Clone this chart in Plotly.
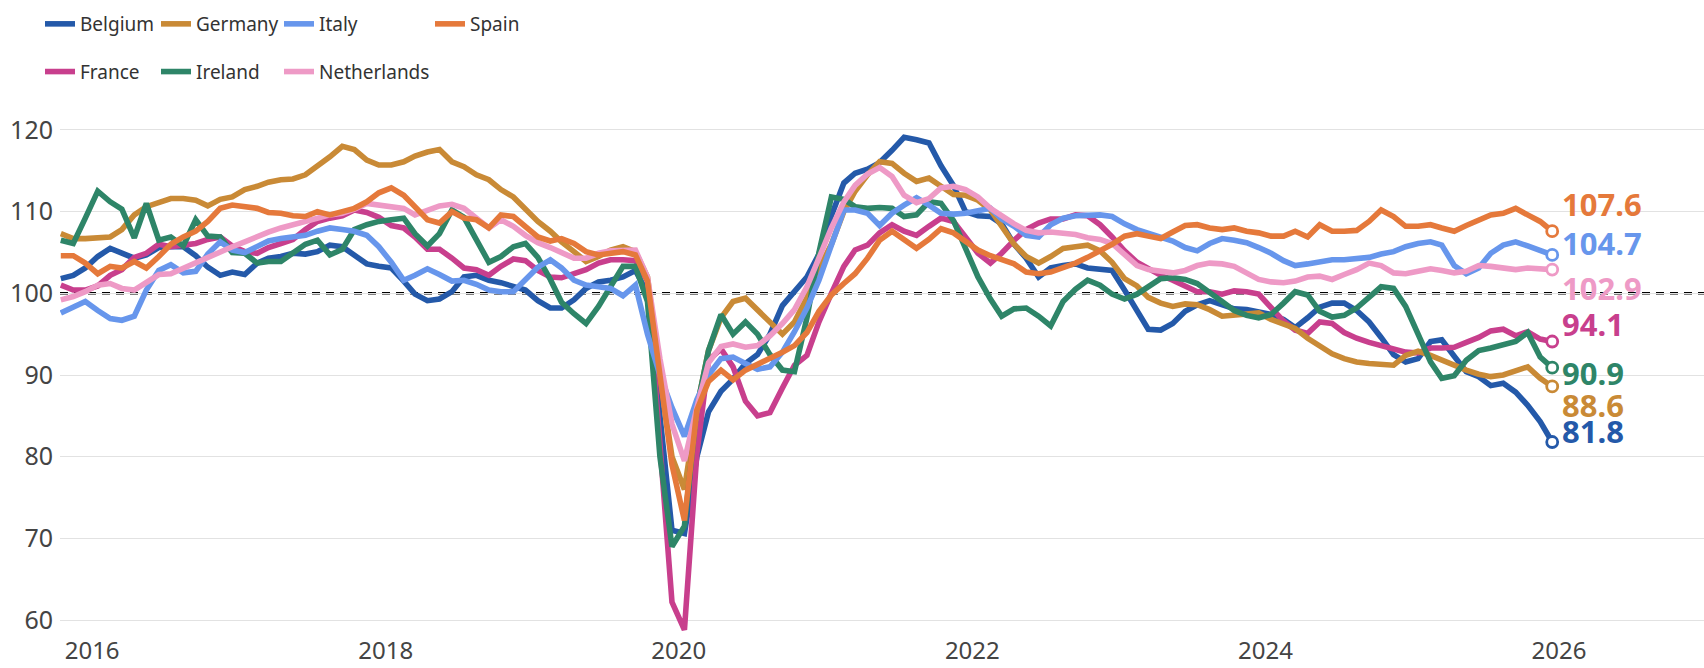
import pandas as pd
import plotly.graph_objects as go

# ---------------- data (monthly index, Oct 2015 .. Dec 2025) ----------------
n_months = 123
dates = pd.date_range("2015-10-01", periods=n_months, freq="MS") + pd.Timedelta(days=14)

belgium = [
    101.8, 102.2, 103.1, 104.5, 105.5, 104.9, 104.3, 104.7, 105.6, 105.7,
    105.7, 104.6, 103.2, 102.2, 102.6, 102.3, 103.7, 104.3, 104.5, 104.9,
    104.8, 105.1, 105.9, 105.7, 104.7, 103.6, 103.3, 103.1, 101.5, 99.9,
    99.1, 99.3, 100.2, 102.0, 102.2, 101.6, 101.3, 100.9, 100.4, 99.1,
    98.2, 98.2, 99.2, 100.6, 101.4, 101.6, 102.0, 102.8, 100.0, 85.0,
    71.0, 70.6, 80.0, 85.5, 88.0, 89.5, 91.4, 92.5, 95.0, 98.5,
    100.2, 102.0, 104.8, 109.5, 113.5, 114.7, 115.2, 116.0, 117.5, 119.1,
    118.8, 118.4, 115.6, 113.2, 110.0, 109.5, 109.4, 108.5, 106.0, 104.3,
    102.0, 103.1, 103.4, 103.6, 103.1, 102.9, 102.8, 100.4, 97.8, 95.6,
    95.5, 96.3, 97.8, 98.6, 99.1, 98.6, 98.1, 98.0, 97.7, 97.4,
    96.8, 95.8, 97.0, 98.3, 98.8, 98.8, 97.9, 96.5, 94.6, 92.5,
    91.6, 92.0, 94.1, 94.3, 92.3, 90.4, 89.8, 88.7, 89.0, 87.9,
    86.3, 84.3, 81.8,
]
france = [
    101.0, 100.4, 100.4, 100.9, 102.2, 102.9, 104.4, 104.9, 106.0, 105.7,
    105.9, 106.1, 106.6, 106.9, 105.8, 105.1, 104.9, 105.6, 106.1, 106.6,
    107.8, 108.8, 109.2, 109.5, 110.2, 109.9, 109.3, 108.3, 108.0, 106.9,
    105.4, 105.4, 104.3, 103.1, 102.9, 102.2, 103.3, 104.2, 104.0, 102.8,
    102.0, 101.9, 102.4, 102.9, 103.7, 104.1, 104.1, 104.0, 101.5, 81.0,
    62.2, 58.8, 80.4, 91.8, 93.2, 91.0, 86.8, 85.0, 85.4, 88.4,
    91.2, 92.4, 96.5, 100.0, 103.3, 105.3, 105.9, 107.4, 108.4, 107.6,
    107.1, 108.2, 109.2, 108.8, 106.9, 104.9, 103.7, 104.9, 106.5, 107.8,
    108.6, 109.1, 109.1, 109.6, 109.5, 108.4, 106.9, 105.2, 103.8, 103.0,
    102.2, 101.6, 100.9, 100.2, 100.2, 99.9, 100.3, 100.2, 99.9, 98.3,
    96.6, 95.5, 95.1, 96.5, 96.3, 95.2, 94.5, 94.0, 93.6, 93.2,
    92.8, 92.7, 93.3, 93.3, 93.4, 94.0, 94.6, 95.4, 95.6, 94.8,
    95.3, 94.4, 94.1,
]
germany = [
    107.3, 106.7, 106.7, 106.8, 106.9, 107.8, 109.6, 110.6, 111.2, 111.6,
    111.6, 111.4, 110.7, 111.5, 111.8, 112.7, 113.1, 113.6, 113.9, 114.0,
    114.5, 115.5, 116.7, 118.0, 117.6, 116.3, 115.7, 115.7, 116.1, 116.8,
    117.3, 117.6, 116.1, 115.5, 114.5, 113.9, 112.7, 111.8, 110.2, 108.8,
    107.6, 106.3, 105.1, 103.9, 104.5, 105.3, 105.7, 105.1, 102.0, 90.0,
    80.0, 76.0, 86.0, 93.0, 97.0, 99.0, 99.4, 98.0, 96.5, 95.0,
    96.5, 99.5, 103.0, 106.0, 110.0, 112.5, 114.5, 116.1, 115.9, 114.7,
    113.7, 114.1, 113.1, 112.1, 112.0, 111.4, 110.2, 108.3, 106.0, 104.5,
    103.7, 104.5, 105.5, 105.7, 105.9, 105.2, 103.8, 101.8, 100.9, 99.5,
    98.8, 98.4, 98.7, 98.6, 98.0, 97.2, 97.3, 97.4, 97.6, 96.8,
    96.2, 95.7, 94.5, 93.5, 92.6, 92.0, 91.6, 91.4, 91.3, 91.2,
    92.4, 92.9, 92.4, 91.8, 91.2, 90.6, 90.1, 89.8, 90.0, 90.5,
    91.0, 89.6, 88.6,
]
ireland = [
    106.5, 106.1, 109.2, 112.5, 111.2, 110.3, 106.8, 111.0, 106.5, 106.9,
    105.8, 109.0, 107.0, 106.9, 105.0, 104.9, 103.7, 103.9, 103.9, 104.9,
    106.0, 106.5, 104.7, 105.4, 107.8, 108.4, 108.8, 109.0, 109.2, 107.3,
    105.8, 107.3, 110.2, 109.3, 106.5, 103.8, 104.5, 105.7, 106.1, 104.4,
    101.7, 98.9, 97.5, 96.3, 98.4, 100.9, 103.3, 103.3, 99.0, 80.0,
    69.0, 71.5, 86.0, 93.0, 97.4, 95.0, 96.5, 95.0, 92.5, 90.6,
    90.4, 97.0, 105.0, 111.8, 111.5, 110.6, 110.4, 110.5, 110.4, 109.4,
    109.6, 111.2, 111.0, 108.9, 105.5, 102.0, 99.3, 97.2, 98.1, 98.2,
    97.2, 96.0, 99.0, 100.5, 101.6, 101.0, 99.9, 99.3, 99.9, 100.8,
    101.8, 101.9, 101.7, 101.2, 100.2, 99.0, 97.9, 97.3, 97.0, 97.4,
    98.8, 100.2, 99.8, 97.8, 97.1, 97.3, 98.2, 99.6, 100.8, 100.6,
    98.4, 95.0, 91.6, 89.6, 89.9, 91.8, 93.0, 93.3, 93.7, 94.1,
    95.2, 92.2, 90.9,
]
italy = [
    97.6, 98.4, 99.0, 97.9, 96.9, 96.7, 97.2, 100.4, 102.8, 103.5,
    102.5, 102.7, 104.8, 106.3, 105.3, 105.0, 105.8, 106.4, 106.7, 106.9,
    107.1, 107.6, 108.0, 107.8, 107.6, 107.1, 105.7, 103.8, 101.6, 102.2,
    103.0, 102.3, 101.5, 101.6, 101.1, 100.4, 100.2, 100.2, 101.6, 103.2,
    104.1, 103.1, 101.6, 101.0, 100.8, 100.6, 99.7, 101.0, 95.0, 90.0,
    86.0, 82.5, 87.0, 90.0, 92.0, 92.2, 91.4, 90.7, 91.0, 92.8,
    95.3, 98.2, 101.6, 106.1, 110.2, 110.2, 109.8, 108.3, 109.8, 110.8,
    111.7, 110.8, 109.8, 109.7, 109.8, 110.1, 110.4, 109.1, 108.2, 107.1,
    106.9, 108.4, 109.2, 109.5, 109.6, 109.6, 109.4, 108.5, 107.8, 107.4,
    106.9, 106.4, 105.6, 105.2, 106.1, 106.7, 106.5, 106.2, 105.6, 104.9,
    104.0, 103.4, 103.6, 103.9, 104.1, 104.1, 104.2, 104.4, 104.8, 105.1,
    105.7, 106.1, 106.3, 105.9, 103.4, 102.4, 103.1, 104.9, 105.9, 106.3,
    105.8, 105.3, 104.7,
]
netherlands = [
    99.2, 99.6, 100.2, 101.0, 101.2, 100.6, 100.4, 101.4, 102.3, 102.4,
    103.1, 103.7, 104.5, 105.1, 105.7, 106.3, 107.0, 107.5, 108.0, 108.4,
    108.9, 109.2, 109.6, 109.8, 110.3, 111.0, 110.8, 110.5, 110.4, 109.6,
    110.1, 110.7, 110.9, 110.4, 109.2, 108.0, 109.0, 108.2, 107.1, 106.2,
    105.6, 105.0, 104.3, 104.3, 104.9, 105.2, 105.3, 105.3, 102.0, 92.0,
    84.0, 79.5, 86.0, 91.5, 93.5, 93.8, 93.4, 93.6, 94.8, 96.3,
    98.0, 100.8, 104.3, 108.0, 111.2, 113.2, 114.6, 115.4, 114.3, 112.0,
    111.1, 111.6, 112.9, 113.1, 112.7, 111.8, 110.4, 109.4, 108.5, 107.7,
    107.4, 107.5, 107.4, 107.2, 106.8, 106.6, 106.1, 104.7, 103.4, 102.9,
    102.7, 102.5, 102.8, 103.4, 103.7, 103.6, 103.3, 102.4, 101.7, 101.4,
    101.3, 101.5, 102.0, 102.1, 101.7, 102.3, 102.9, 103.7, 103.4, 102.5,
    102.4, 102.7, 103.0, 102.8, 102.5, 102.7, 103.4, 103.3, 103.1, 102.9,
    103.1, 103.0, 102.9,
]
spain = [
    104.6, 104.6, 103.7, 102.4, 103.3, 103.1, 103.9, 103.1, 104.5, 106.0,
    106.9, 107.6, 108.8, 110.4, 110.8, 110.6, 110.4, 109.9, 109.8, 109.5,
    109.4, 110.0, 109.6, 110.0, 110.4, 111.2, 112.3, 112.9, 112.0, 110.6,
    109.0, 108.6, 110.0, 109.2, 109.0, 108.0, 109.6, 109.4, 108.2, 106.9,
    106.4, 106.7, 106.1, 105.1, 104.7, 104.9, 105.1, 104.7, 101.5, 90.0,
    79.0, 72.2, 85.7, 89.2, 90.6, 89.4, 90.6, 91.3, 92.0, 92.8,
    93.6, 95.2, 97.8, 99.8, 101.2, 102.4, 104.3, 106.5, 107.6, 106.5,
    105.5, 106.6, 107.9, 107.4, 106.3, 105.3, 104.6, 104.2, 103.6, 102.6,
    102.4, 102.6, 103.1, 103.7, 104.4, 105.2, 106.0, 107.0, 107.3, 107.0,
    106.7, 107.5, 108.3, 108.4, 108.0, 107.8, 108.0, 107.6, 107.4, 107.0,
    107.0, 107.6, 106.9, 108.4, 107.6, 107.6, 107.7, 108.8, 110.2, 109.4,
    108.2, 108.2, 108.4, 108.0, 107.6, 108.3, 109.0, 109.6, 109.8, 110.4,
    109.6, 108.8, 107.6,
]

countries = ["Belgium", "France", "Germany", "Ireland", "Italy", "Netherlands", "Spain"]
series = [belgium, france, germany, ireland, italy, netherlands, spain]
reference_level = 100
year_ticks = ["2016", "2018", "2020", "2022", "2024", "2026"]

# ---------------- styling ----------------
colors = {
    "Belgium": "#2459A9",
    "France": "#C83F8D",
    "Germany": "#C98A36",
    "Ireland": "#2E8568",
    "Italy": "#6796EC",
    "Netherlands": "#EE9AC6",
    "Spain": "#E5793B",
}
legend_of = {
    "Belgium": "legend", "France": "legend",
    "Germany": "legend2", "Ireland": "legend2",
    "Italy": "legend3", "Netherlands": "legend3",
    "Spain": "legend4",
}
legend_left_px = {"legend": 40, "legend2": 156, "legend3": 279, "legend4": 430}
label_shift = {"Spain": 27, "Italy": 12, "Netherlands": -18, "France": 18,
               "Ireland": -5, "Germany": -19, "Belgium": 11}

W, H = 1704, 668
FONT = "Noto Sans"

fig = go.Figure()
for name, vals in zip(countries, series):
    fig.add_trace(go.Scatter(
        x=dates, y=vals, mode="lines", name=name,
        line=dict(color=colors[name], width=5.6),
        legend=legend_of[name], legendgroup=name,
        hoverinfo="skip",
    ))
for name, vals in zip(countries, series):
    fig.add_trace(go.Scatter(
        x=[dates[-1]], y=[vals[-1]], mode="markers", showlegend=False,
        marker=dict(symbol="circle", size=11, color="white",
                    line=dict(color=colors[name], width=2.8)),
        hoverinfo="skip",
    ))
    fig.add_annotation(
        x=dates[-1], y=vals[-1], text=f"<b>{vals[-1]:.1f}</b>",
        showarrow=False, xanchor="left", yanchor="middle",
        xshift=8, yshift=label_shift[name],
        font=dict(family=FONT, size=31, color=colors[name]),
    )

fig.add_shape(type="line", xref="paper", x0=0, x1=1, yref="y",
              y0=reference_level, y1=reference_level, layer="between",
              line=dict(color="black", width=2.5, dash="8px,6px"))

legend_common = dict(
    orientation="v", xref="container", yref="container",
    yanchor="top", y=1 - 5 / H, xanchor="left",
    font=dict(family=FONT, size=19, color="#333333"),
    bgcolor="rgba(0,0,0,0)", tracegroupgap=20, itemwidth=30,
)
legends = {}
for key, px in legend_left_px.items():
    legends[key] = dict(legend_common, x=px / W)

fig.update_layout(
    width=W, height=H,
    margin=dict(l=60, r=0, t=105, b=30, autoexpand=False),
    paper_bgcolor="white", plot_bgcolor="white",
    font=dict(family=FONT, color="#444444"),
    **legends,
)
fig.update_xaxes(
    range=["2015-10-13", "2026-12-28"],
    tickvals=[f"{y}-01-01" for y in year_ticks], ticktext=year_ticks,
    showgrid=False, zeroline=False, showline=False,
    tickfont=dict(family=FONT, size=24, color="#444444"),
    anchor="free", position=4 / 533,
    ticklabelstandoff=0, automargin=False,
)
fig.update_yaxes(
    range=[57.81, 123.05], tick0=0, dtick=10,
    showgrid=True, gridcolor="#e2e2e2", gridwidth=1,
    zeroline=False, showline=False,
    tickfont=dict(family=FONT, size=25, color="#444444"),
    ticklabelstandoff=6, automargin=False,
)

fig.write_html(
    "out.html",
    config={"displayModeBar": False},
    post_script="document.body.style.margin='0px';"
                "document.body.style.padding='0px';"
                "document.body.style.overflow='hidden';",
)
